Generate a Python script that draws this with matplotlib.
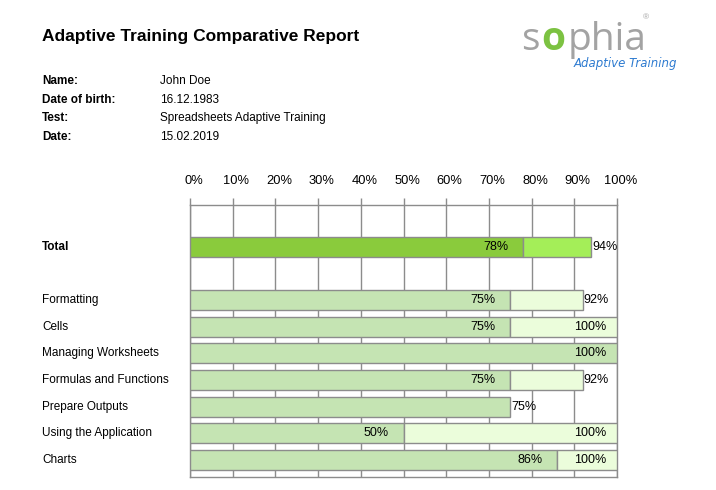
import matplotlib
matplotlib.use("Agg")
import matplotlib.pyplot as plt
from matplotlib.transforms import blended_transform_factory, ScaledTranslation

plt.rcParams['font.family'] = ['Liberation Sans', 'DejaVu Sans']

# ---- data ----
title = "Adaptive Training Comparative Report"
info_labels = ["Name:", "Date of birth:", "Test:", "Date:"]
info_values = ["John Doe", "16.12.1983", "Spreadsheets Adaptive Training", "15.02.2019"]
categories = ["Total", "Formatting", "Cells", "Managing Worksheets",
              "Formulas and Functions", "Prepare Outputs",
              "Using the Application", "Charts"]
first_scores = [78, 75, 75, 100, 75, 75, 50, 86]
second_scores = [94, 92, 100, 100, 92, 75, 100, 100]
x_ticks = [0, 10, 20, 30, 40, 50, 60, 70, 80, 90, 100]
x_tick_labels = [f"{t}%" for t in x_ticks]

W, H = 716, 490
fig = plt.figure(figsize=(W / 100, H / 100), dpi=100)
fig.patch.set_facecolor("white")

def fx(px):
    return px / W

def fy(py):
    return 1 - py / H

# header
fig.text(fx(42), fy(37), title, fontsize=12.5, fontweight="bold", va="center", ha="left")
for i, (lab, val) in enumerate(zip(info_labels, info_values)):
    y = [81, 100, 118, 137][i]
    fig.text(fx(42), fy(y), lab, fontsize=8.5, fontweight="bold", va="center")
    fig.text(fx(160), fy(y), val, fontsize=8.5, va="center")

# logo (approximation)
gray = "#a3a3a3"
logo_font = ["Open Sans", "DejaVu Sans"]
t1 = fig.text(fx(521), fy(50), "s", fontsize=28, color=gray, va="baseline", ha="left",
              family=logo_font)
fig.canvas.draw()
r = fig.canvas.get_renderer()
bb = t1.get_window_extent(r)
t2 = fig.text((bb.x1 + 2) / W, fy(50), "o", fontsize=28, color="#7cc242", va="baseline",
              ha="left", family=logo_font, fontweight="bold")
fig.canvas.draw()
bb2 = t2.get_window_extent(r)
fig.text((bb2.x1 + 2) / W, fy(50), "phia", fontsize=28, color=gray, va="baseline", ha="left",
         family=logo_font)
fig.text(fx(643), fy(18), "®", fontsize=6, color=gray, va="center", ha="left")
fig.text(fx(574), fy(64), "Adaptive Training", fontsize=8.5, color="#2e7bd0",
         va="center", ha="left", style="italic", family=["DejaVu Sans"])

# chart axes
ax_left, ax_right, ax_top, ax_bottom = 190, 617, 205, 477
ax = fig.add_axes([fx(ax_left), fy(ax_bottom), (ax_right - ax_left) / W,
                   (ax_bottom - ax_top) / H])
positions = [0] + list(range(2, len(categories) + 1))
ax.set_xlim(0, 100)
ax.set_ylim(8.65, -1.58)

edge = "#8c8c8c"
for s in ax.spines.values():
    s.set_color(edge)
    s.set_linewidth(1.0)
ax.set_xticks(x_ticks)
ax.set_xticklabels(x_tick_labels, fontsize=9.3)
ax.xaxis.tick_top()
ax.tick_params(axis="x", length=5, width=1.0, color=edge, pad=8)
shift = ScaledTranslation(3.5 / 100, 0, fig.dpi_scale_trans)
for lbl in ax.get_xticklabels():
    lbl.set_transform(lbl.get_transform() + shift)
ax.set_yticks([])
ax.grid(axis="x", color=edge, linewidth=1.0)
ax.set_axisbelow(True)

bh = 0.75
trans = blended_transform_factory(fig.transFigure, ax.transData)
for i, (cat, a, b, p) in enumerate(zip(categories, first_scores, second_scores, positions)):
    if i == 0:
        c1, c2 = "#8acb3c", "#a4ee58"
    else:
        c1, c2 = "#c5e4b3", "#ebfddb"
    ax.barh(p, a, height=bh, color=c1, edgecolor=edge, linewidth=1.0, zorder=3)
    if b > a:
        ax.barh(p, b - a, left=a, height=bh, color=c2, edgecolor=edge, linewidth=1.0, zorder=3)
        ax.annotate(f"{a}%", xy=(a, p), xytext=(-15, 0), textcoords="offset pixels",
                    ha="right", va="center", fontsize=9, zorder=4)
    if b >= 100:
        ax.annotate(f"{b}%", xy=(b, p), xytext=(-11, 0), textcoords="offset pixels",
                    ha="right", va="center", fontsize=9, zorder=4)
    else:
        ax.annotate(f"{b}%", xy=(b, p), xytext=(1, 0), textcoords="offset pixels",
                    ha="left", va="center", fontsize=9, zorder=4)
    ax.text(fx(42), p, cat, transform=trans, ha="left", va="center",
            fontsize=8.5, fontweight="bold" if i == 0 else "normal")

fig.savefig("out.png", dpi=100, facecolor="white")
